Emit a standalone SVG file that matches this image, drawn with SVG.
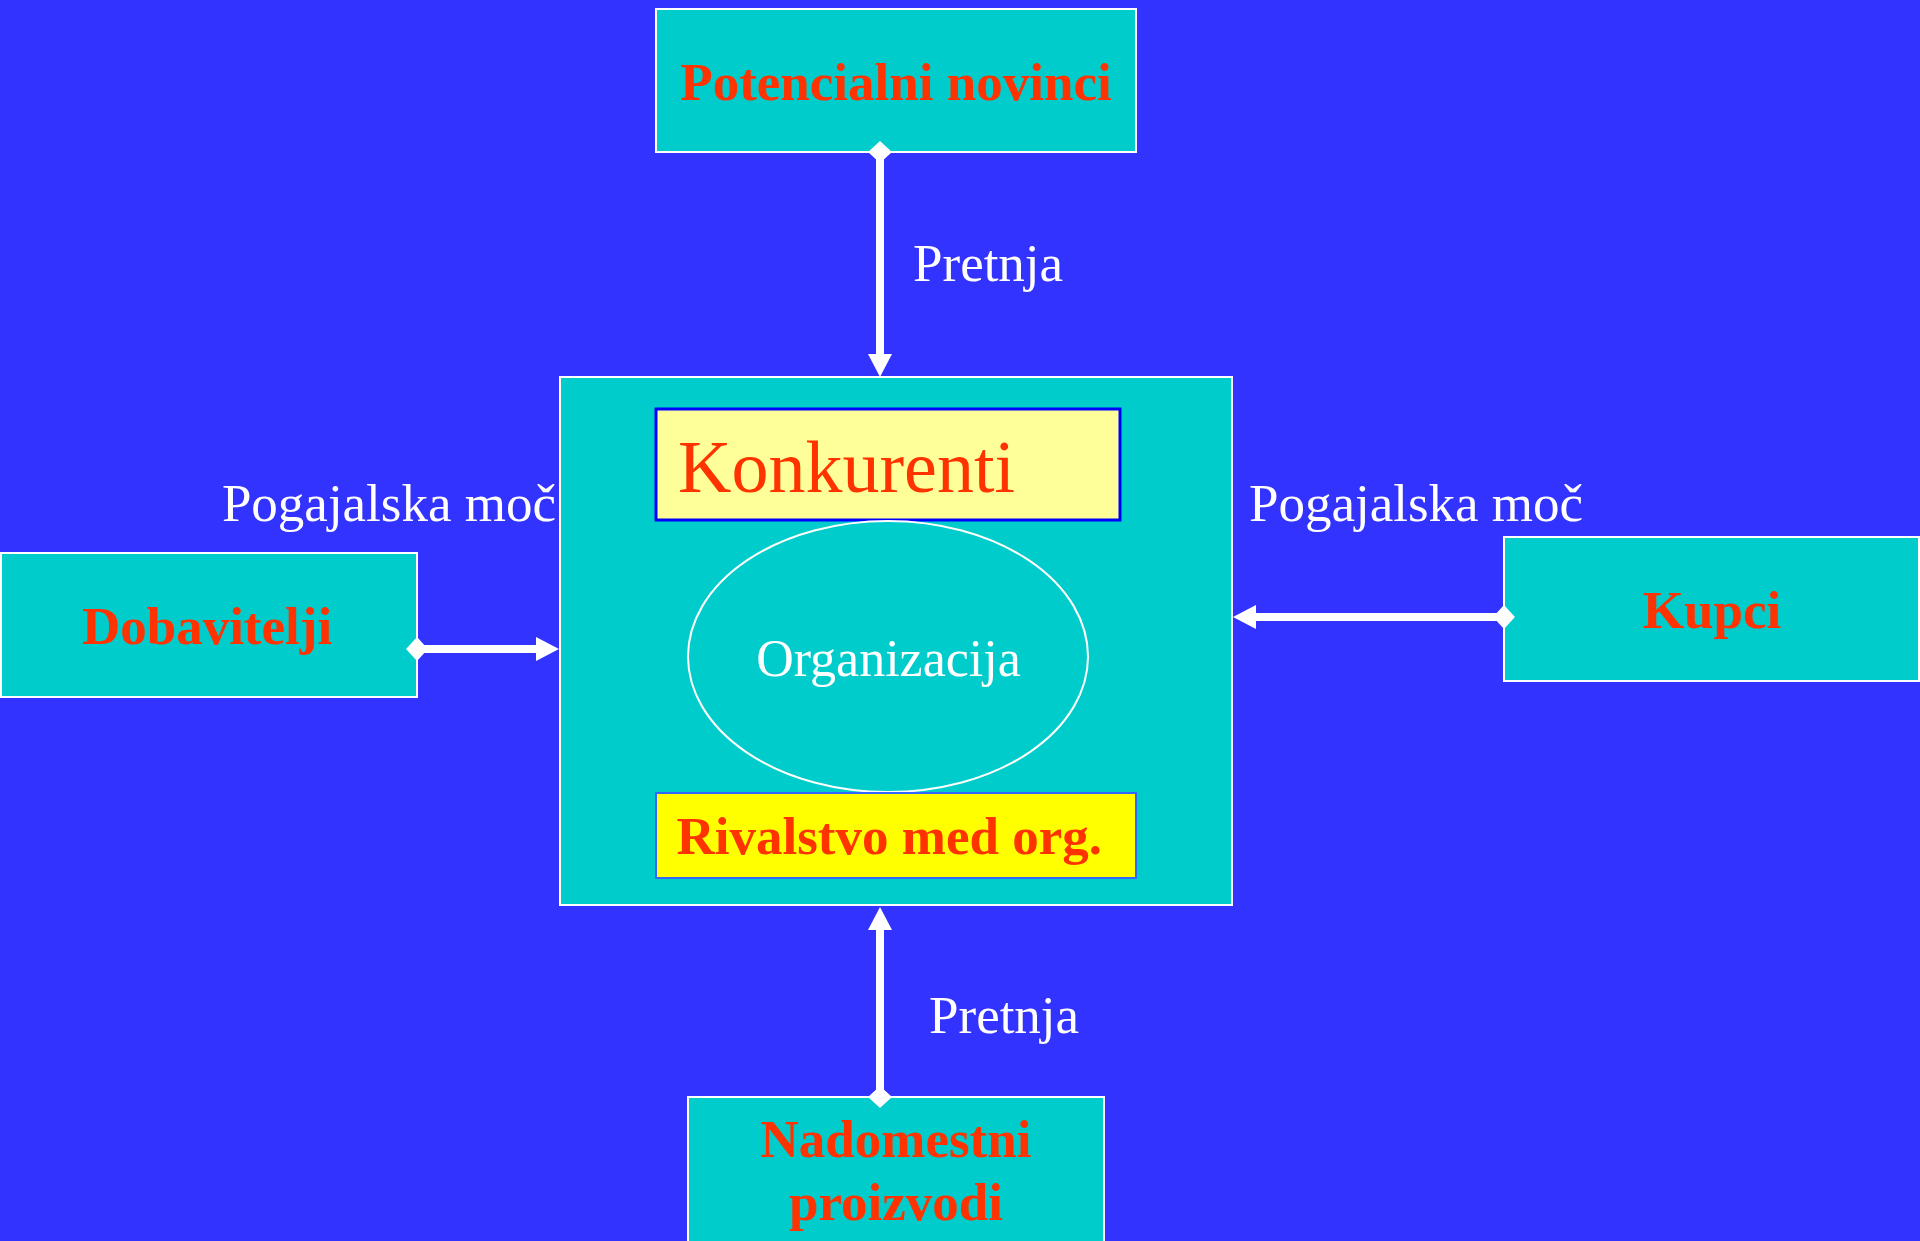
<svg xmlns="http://www.w3.org/2000/svg" width="1920" height="1241" viewBox="0 0 1920 1241">
  <style>
    .box { fill: #00CCCC; stroke: #FFFFFF; stroke-width: 2; }
    .force { font-family: "Liberation Serif", "Times New Roman", serif; font-weight: bold; font-size: 53px; fill: #FF3300; text-anchor: middle; }
    .label { font-family: "Liberation Serif", "Times New Roman", serif; font-size: 53px; fill: #FFFFFF; }
    .link { stroke: #FFFFFF; stroke-width: 8; fill: none; marker-start: url(#diamond); marker-end: url(#arrow); }
  </style>
  <defs>
    <marker id="arrow" markerUnits="userSpaceOnUse" markerWidth="24" markerHeight="24" viewBox="0 0 23 24" refX="1" refY="12" orient="auto" overflow="visible">
      <path d="M0,0 L23,12 L0,24 Z" fill="#FFFFFF"/>
    </marker>
    <marker id="diamond" markerUnits="userSpaceOnUse" markerWidth="22" markerHeight="24" viewBox="0 0 21 23" refX="10.5" refY="11.5" orient="auto" overflow="visible">
      <path d="M0,11.5 L10.5,0 L21,11.5 L10.5,23 Z" fill="#FFFFFF"/>
    </marker>
  </defs>

  <rect width="1920" height="1241" fill="#3333FF"/>

  <!-- industry core: competitors, organisation, rivalry -->
  <g id="konkurenti-okvir">
    <rect class="box" x="560" y="377" width="672" height="528"/>
  </g>
  <g id="konkurenti">
    <rect x="656" y="409" width="464" height="111" fill="#FFFF99" stroke="#0000FF" stroke-width="3"/>
    <text x="678" y="492" font-family="Liberation Serif, Times New Roman, serif" font-size="74" fill="#FF3300">Konkurenti</text>
  </g>
  <g id="organizacija">
    <ellipse cx="888" cy="656.5" rx="200" ry="135.5" fill="none" stroke="#FFFFFF" stroke-width="2"/>
    <text x="888.5" y="676" font-family="Liberation Serif, Times New Roman, serif" font-size="52" fill="#FFFFFF" text-anchor="middle">Organizacija</text>
  </g>
  <g id="rivalstvo">
    <rect x="656" y="793" width="480" height="85" fill="#FFFF00" stroke="#3366FF" stroke-width="2"/>
    <text x="676.5" y="854" font-family="Liberation Serif, Times New Roman, serif" font-size="53" font-weight="bold" fill="#FF3300">Rivalstvo med org.</text>
  </g>

  <!-- outside forces -->
  <g id="potencialni-novinci">
    <rect class="box" x="656" y="9" width="480" height="143"/>
    <text class="force" x="896" y="100">Potencialni novinci</text>
  </g>
  <g id="dobavitelji">
    <rect class="box" x="1" y="553" width="416" height="144"/>
    <text class="force" x="207" y="644">Dobavitelji</text>
  </g>
  <g id="kupci">
    <rect class="box" x="1504" y="537" width="415" height="144"/>
    <text class="force" x="1712" y="628">Kupci</text>
  </g>
  <g id="nadomestni-proizvodi">
    <rect class="box" x="688" y="1097" width="416" height="160"/>
    <text class="force" x="896" y="1157">Nadomestni</text>
    <text class="force" x="896" y="1220">proizvodi</text>
  </g>

  <!-- connectors -->
  <g id="povezave">
    <line class="link" x1="880" y1="152" x2="880" y2="355"/>
    <line class="link" x1="880" y1="1097" x2="880" y2="929"/>
    <line class="link" x1="417" y1="649" x2="537" y2="649"/>
    <line class="link" x1="1504" y1="617" x2="1255" y2="617"/>
  </g>

  <!-- connector labels -->
  <g id="oznake">
    <text class="label" x="913" y="281">Pretnja</text>
    <text class="label" x="929" y="1033">Pretnja</text>
    <text class="label" x="556" y="521" text-anchor="end">Pogajalska moč</text>
    <text class="label" x="1249" y="521">Pogajalska moč</text>
  </g>
</svg>
